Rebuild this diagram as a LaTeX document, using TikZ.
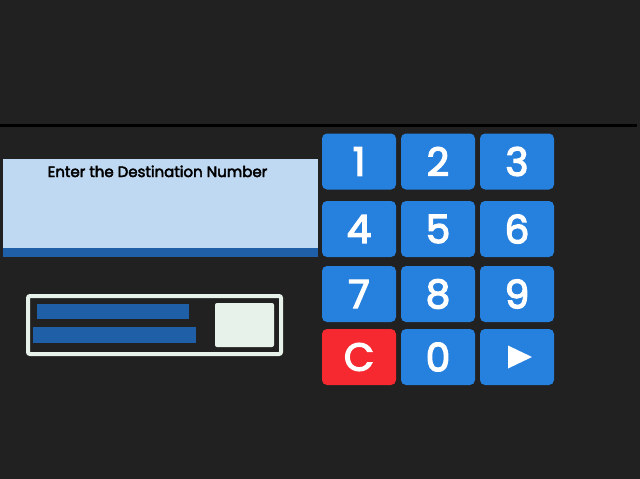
\documentclass[tikz,border=0pt]{standalone}
\usepackage{fontspec}
\setmainfont{Poppins}
\newfontfamily\popmed{Poppins}[FakeBold=3.5]
\newfontfamily\poptitle{Poppins}[FakeBold=3]
\usetikzlibrary{calc}
\definecolor{bg}{HTML}{212121}
\definecolor{keyblue}{HTML}{2680DD}
\definecolor{keyred}{HTML}{F5292F}
\definecolor{disp}{HTML}{BFD9F2}
\definecolor{dispbar}{HTML}{1F5FA8}
\definecolor{panel}{HTML}{E6F2EA}
\tikzset{
  key/.style={fill=keyblue, rounded corners=5pt, minimum width=74pt, minimum height=56pt,
    inner sep=0pt, text=white, font=\fontsize{39}{40}\selectfont\popmed},
  redkey/.style={key, fill=keyred},
}
\begin{document}
\begin{tikzpicture}[x=1pt,y=-1pt]
\fill[bg] (0,0) rectangle (640,479);
\useasboundingbox (0,0) rectangle (640,479);
% separator line
\coordinate (l1) at (0,125);
\coordinate (l2) at (637,125);
\draw[black, line width=3pt] (l1) -- (l2);
% display
\fill[disp] (3,159) rectangle (318,257);
\fill[dispbar] (3,248) rectangle (318,257);
\node[font=\fontsize{15}{16}\selectfont\poptitle, text=black, anchor=base, inner sep=0pt] (title) at (157.5,177) {Enter the Destination Number};
% card panel
\draw[panel, line width=4pt, rounded corners=2pt] (28,296) rectangle (281,354);
\fill[dispbar] (37,304) rectangle (189,319);
\fill[dispbar] (33,327) rectangle (196,343);
\fill[panel, rounded corners=2pt] (215,303) rectangle (274,347);
% keypad
\node[key] (k1) at (359,161.5) {1};
\node[key] (k2) at (438,161.5) {2};
\node[key] (k3) at (517,161.5) {3};
\node[key] (k4) at (359,229) {4};
\node[key] (k5) at (438,229) {5};
\node[key] (k6) at (517,229) {6};
\node[key] (k7) at (359,294) {7};
\node[key] (k8) at (438,294) {8};
\node[key] (k9) at (517,294) {9};
\node[redkey] (kc) at (359,357) {C};
\node[key] (k0) at (438,357) {0};
\node[key] (kgo) at (517,357) {};
\fill[white] ($(kgo.center)+(-9,-11.5)$) -- ($(kgo.center)+(-9,11.5)$) -- ($(kgo.center)+(15,0)$) -- cycle;
\end{tikzpicture}
\end{document}
